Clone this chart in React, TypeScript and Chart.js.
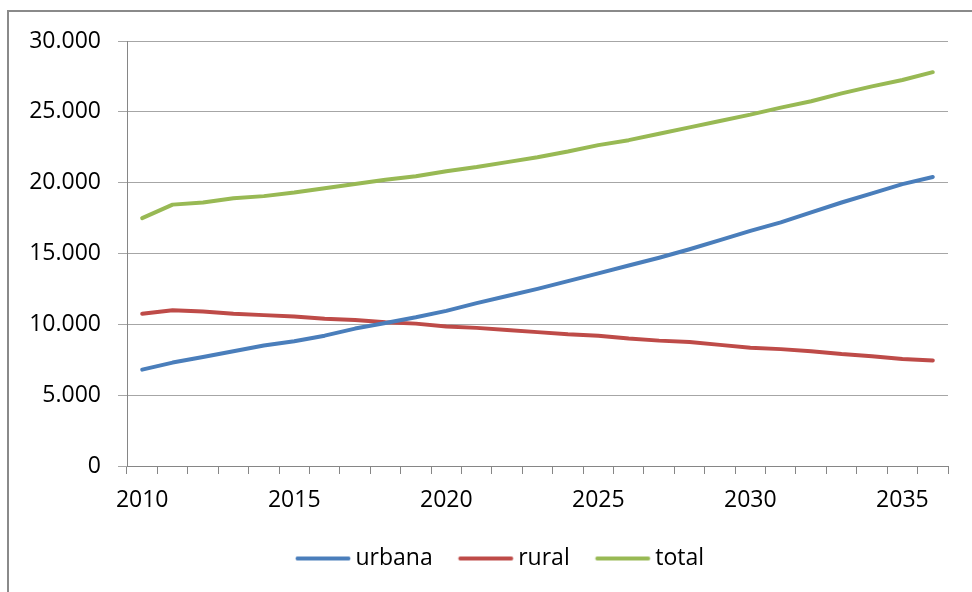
import React, { useEffect, useRef } from "react";
import { Chart, registerables } from "chart.js";

Chart.register(...registerables);

const years: string[] = [
  "2010", "2011", "2012", "2013", "2014", "2015", "2016", "2017", "2018", "2019",
  "2020", "2021", "2022", "2023", "2024", "2025", "2026", "2027", "2028", "2029",
  "2030", "2031", "2032", "2033", "2034", "2035", "2036",
];

const urbana: number[] = [
  6800, 7300, 7700, 8100, 8500, 8800, 9200, 9700, 10100, 10500,
  10950, 11500, 12000, 12500, 13050, 13600, 14150, 14700, 15300, 15950,
  16600, 17200, 17900, 18600, 19250, 19900, 20400,
];

const rural: number[] = [
  10750, 11000, 10900, 10750, 10650, 10550, 10400, 10300, 10150, 10050,
  9850, 9750, 9600, 9450, 9300, 9200, 9000, 8850, 8750, 8550,
  8350, 8250, 8100, 7900, 7750, 7550, 7450,
];

const total: number[] = [
  17500, 18450, 18600, 18900, 19050, 19300, 19600, 19900, 20200, 20450,
  20800, 21100, 21450, 21800, 22200, 22650, 23000, 23450, 23900, 24350,
  24800, 25300, 25750, 26300, 26800, 27250, 27800,
];

const seriesNames: string[] = ["urbana", "rural", "total"];
const seriesColors: string[] = ["#4A7EBB", "#BE4B48", "#98B954"];

const yTicks: number[] = [0, 5000, 10000, 15000, 20000, 25000, 30000];

const FONT = "'Open Sans', 'DejaVu Sans', sans-serif";
const LEGEND_SHIFT = 18;

function fmt(v: number): string {
  return v === 0 ? "0" : v.toLocaleString("de-DE");
}

function legendLine(color: string): HTMLCanvasElement {
  // asymmetric sample so the line sits close to its label
  const c = document.createElement("canvas");
  c.width = 80;
  c.height = 6;
  const g = c.getContext("2d")!;
  g.strokeStyle = color;
  g.lineWidth = 4;
  g.lineCap = "round";
  g.beginPath();
  g.moveTo(25.5, 3);
  g.lineTo(76.5, 3);
  g.stroke();
  return c;
}

const legendShift = {
  id: "legendShift",
  afterLayout(chart: any) {
    const lg = chart.legend;
    if (lg) {
      lg.left += LEGEND_SHIFT;
      lg.right += LEGEND_SHIFT;
    }
  },
};

export default function App() {
  const ref = useRef<HTMLCanvasElement | null>(null);

  useEffect(() => {
    if (!ref.current) return;
    const data = [urbana, rural, total];
    const samples = seriesColors.map(legendLine);
    const chart = new Chart(ref.current, {
      type: "line",
      data: {
        labels: years,
        datasets: seriesNames.map((name, i) => ({
          label: name,
          data: data[i],
          borderColor: seriesColors[i],
          backgroundColor: seriesColors[i],
          borderWidth: 4,
          borderCapStyle: "round" as const,
          borderJoinStyle: "round" as const,
          pointRadius: 0,
          pointHoverRadius: 0,
          tension: 0,
          fill: false,
        })),
      },
      plugins: [legendShift],
      options: {
        animation: false,
        responsive: false,
        maintainAspectRatio: false,
        layout: { padding: { left: 0, right: 24, top: 41, bottom: 12 } },
        plugins: {
          tooltip: { enabled: false },
          legend: {
            position: "bottom",
            labels: {
              usePointStyle: true,
              pointStyleWidth: 64,
              boxHeight: 6,
              color: "#000",
              padding: 10,
              font: { family: FONT, size: 23 },
              generateLabels: (ch: any) => {
                const items = (Chart as any).defaults.plugins.legend.labels.generateLabels(ch);
                return items.map((it: any, i: number) => ({
                  ...it,
                  pointStyle: samples[i],
                }));
              },
            },
          },
        },
        scales: {
          x: {
            type: "category",
            offset: true,
            grid: {
              offset: true,
              drawOnChartArea: false,
              drawTicks: true,
              tickLength: 8,
              color: "#868686",
            },
            border: { display: true, color: "#868686", width: 1 },
            ticks: {
              autoSkip: false,
              maxRotation: 0,
              color: "#000",
              padding: 13,
              font: { family: FONT, size: 23 },
              callback: (_v: any, i: number) =>
                Number(years[i]) % 5 === 0 ? years[i] : "",
            },
            afterFit: (s: any) => {
              s.height = 71;
            },
          },
          y: {
            min: 0,
            max: 30000,
            afterBuildTicks: (s: any) => {
              s.ticks = yTicks.map((v) => ({ value: v }));
            },
            grid: {
              color: "#a6a6a6",
              drawTicks: true,
              tickLength: 9,
            },
            border: { display: true, color: "#868686", width: 1 },
            ticks: {
              color: "#000",
              padding: 17,
              font: { family: FONT, size: 23 },
              callback: (v: any) => fmt(Number(v)),
            },
            afterFit: (s: any) => {
              s.width = 127;
            },
          },
        },
      },
    });
    return () => chart.destroy();
  }, []);

  return (
    <div
      style={{
        position: "fixed",
        left: 0,
        top: 0,
        width: 972,
        height: 592,
        background: "#fff",
        overflow: "hidden",
      }}
    >
      <div
        style={{
          position: "absolute",
          left: 7,
          top: 10,
          width: 1000,
          height: 700,
          borderLeft: "2px solid #8a8a8a",
          borderTop: "2px solid #8a8a8a",
        }}
      />
      <canvas
        ref={ref}
        width={972}
        height={592}
        style={{ position: "absolute", left: 0, top: 0, width: 972, height: 592 }}
      />
    </div>
  );
}
